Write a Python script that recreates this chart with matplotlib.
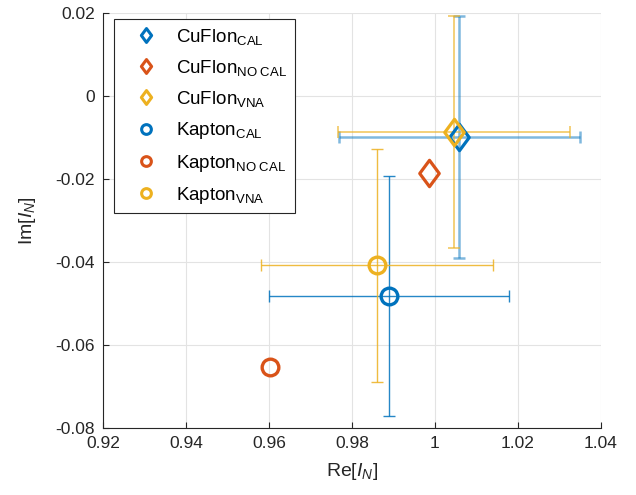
import numpy as np
import matplotlib
matplotlib.use("Agg")
import matplotlib.pyplot as plt
from matplotlib.path import Path
from matplotlib.lines import Line2D

plt.rcParams['font.family'] = ['Liberation Sans', 'DejaVu Sans']
plt.rcParams['mathtext.fontset'] = 'custom'
plt.rcParams['mathtext.rm'] = 'Liberation Sans'
plt.rcParams['mathtext.it'] = 'Liberation Sans:italic'
plt.rcParams['font.size'] = 12.5

# Measured impedance values (real / imaginary parts) per setup
setups = ['CAL', 'NO CAL', 'VNA']
cuflon_re = [1.0059, 0.9985, 1.0046]
cuflon_im = [-0.0099, -0.0185, -0.0087]
cuflon_re_err = [0.0290, 0.0, 0.0280]
cuflon_im_err = [0.0292, 0.0, 0.0280]

kapton_re = [0.9889, 0.9602, 0.9860]
kapton_im = [-0.0482, -0.0652, -0.0408]
kapton_re_err = [0.0290, 0.0, 0.0280]
kapton_im_err = [0.0290, 0.0, 0.0280]

xticks = [0.92, 0.94, 0.96, 0.98, 1.0, 1.02, 1.04]
xtick_labels = ['0.92', '0.94', '0.96', '0.98', '1', '1.02', '1.04']
yticks = [-0.08, -0.06, -0.04, -0.02, 0.0, 0.02]
ytick_labels = ['-0.08', '-0.06', '-0.04', '-0.02', '0', '0.02']

colors = ['#0072BD', '#D95319', '#EDB120']

# Diamond slightly taller than wide
diamond = Path([(0, 1), (0.74, 0), (0, -1), (-0.74, 0), (0, 1)],
               [Path.MOVETO, Path.LINETO, Path.LINETO, Path.LINETO, Path.CLOSEPOLY])

fig = plt.figure(figsize=(6.36, 4.95), dpi=100)
ax = fig.add_axes([103 / 636, 1 - 428 / 495, 498 / 636, 415 / 495])

ax.set_xlim(0.92, 1.04)
ax.set_ylim(-0.08, 0.02)
ax.grid(True, color='#e3e3e3', linewidth=0.8)
ax.set_axisbelow(True)

err_styles = [(1.8, 0.5), None, (1.4, 0.6)]

for i, c in enumerate(colors):
    if cuflon_re_err[i] > 0:
        lw, a = err_styles[i]
        ax.errorbar(cuflon_re[i], cuflon_im[i], xerr=cuflon_re_err[i], yerr=cuflon_im_err[i],
                    fmt='none', ecolor=c, elinewidth=lw, alpha=a, capsize=4, capthick=lw, zorder=2)
    if kapton_re_err[i] > 0:
        ax.errorbar(kapton_re[i], kapton_im[i], xerr=kapton_re_err[i], yerr=kapton_im_err[i],
                    fmt='none', ecolor=c, elinewidth=1.0, alpha=0.85, capsize=4, capthick=1.0, zorder=2)

for i in [0, 2, 1]:
    c = colors[i]
    ax.plot(cuflon_re[i], cuflon_im[i], linestyle='none', marker=diamond, markersize=19,
            markerfacecolor='none', markeredgecolor=c, markeredgewidth=2.3, zorder=3)
for i, c in enumerate(colors):
    ax.plot(kapton_re[i], kapton_im[i], linestyle='none', marker='o', markersize=12,
            markerfacecolor='none', markeredgecolor=c, markeredgewidth=2.4, zorder=3)

ax.set_xticks(xticks)
ax.set_xticklabels(xtick_labels)
ax.set_yticks(yticks)
ax.set_yticklabels(ytick_labels)
ax.tick_params(direction='in', length=4, width=0.8, colors='#262626', labelcolor='#262626', pad=6)
for s in ['top', 'right']:
    ax.spines[s].set_visible(False)
for s in ['left', 'bottom']:
    ax.spines[s].set_color('#262626')
    ax.spines[s].set_linewidth(0.8)

ax.set_xlabel(r'$\mathrm{Re}[I_N]$', color='#262626', labelpad=7, fontsize=14)
ax.set_ylabel(r'$\mathrm{Im}[I_N]$', color='#262626', labelpad=12, fontsize=14)

handles = []
labels = []
for i, c in enumerate(colors):
    handles.append(Line2D([], [], linestyle='none', marker=diamond, markersize=10,
                          markerfacecolor='none', markeredgecolor=c, markeredgewidth=2.2))
    labels.append(r'$\mathrm{CuFlon}_{\mathrm{%s}}$' % setups[i].replace(' ', r'\ '))
for i, c in enumerate(colors):
    handles.append(Line2D([], [], linestyle='none', marker='o', markersize=7,
                          markerfacecolor='none', markeredgecolor=c, markeredgewidth=2.2))
    labels.append(r'$\mathrm{Kapton}_{\mathrm{%s}}$' % setups[i].replace(' ', r'\ '))

leg = ax.legend(handles, labels, loc='upper left', bbox_to_anchor=(0.0227, 0.9855),
                borderaxespad=0, frameon=True, fancybox=False, edgecolor='#262626',
                framealpha=1, labelspacing=0.6, handletextpad=0.3, borderpad=0.4,
                handlelength=2.6, fontsize=13.5)
leg.get_frame().set_linewidth(0.8)

fig.savefig('out.png', dpi=100)
